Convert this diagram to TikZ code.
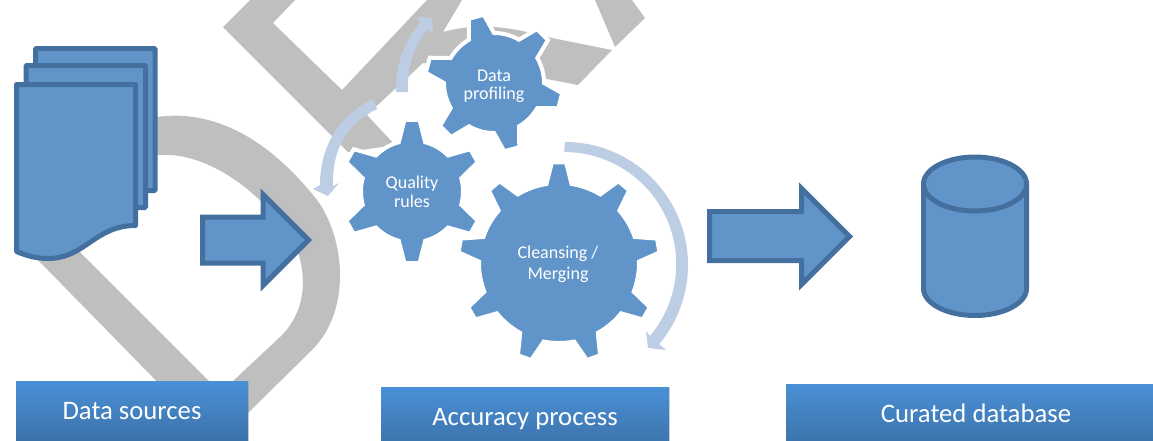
\documentclass[tikz,border=0pt]{standalone}
\usepackage{fontspec}
\setmainfont{Carlito}
\usetikzlibrary{shadows}
\definecolor{shapeblue}{HTML}{6195C9}
\definecolor{edgeblue}{HTML}{44709F}
\definecolor{paleblue}{HTML}{BCCDE4}
\definecolor{bandgrey}{HTML}{BFBFBF}
\definecolor{boxtop}{HTML}{4A90D6}
\definecolor{boxbottom}{HTML}{3C72AA}
\tikzset{
    band/.style={fill=bandgrey},
    solid blue/.style={draw=edgeblue, fill=shapeblue, line width=5, miter limit=10},
    cog/.style={draw=white, fill=shapeblue, line width=4},
    turn/.style={fill=paleblue},
    cog text/.style={text=white, align=center, font=\fontsize{18}{18.5}\selectfont},
    caption/.style={text=white, shade, top color=boxtop, bottom color=boxbottom, minimum height=60,
        text height=16, text depth=0, inner sep=0, font=\fontsize{26.7}{30}\selectfont,
        drop shadow={shadow xshift=1, shadow yshift=-1, opacity=.3}}
}

\begin{document}
\begin{tikzpicture}[x=1pt, y=1pt]
    \useasboundingbox (0, 0) rectangle (1153, -440);

    % grey bands behind everything
    \fill[band] (60, -232) -- (225, -397) -- (175, -400) -- (37, -259) -- cycle;
    \fill[band] (130, -120) -- (157, -117) .. controls (205, -110) and (262, -130) .. (317, -200)
        .. controls (345, -238) and (352, -310) .. (312, -350) -- (248, -413) -- (200, -460) -- (190, -425) -- (232, -382) -- (280, -337)
        .. controls (305, -313) and (307, -280) .. (298, -252)
        .. controls (285, -218) and (222, -150) .. (157, -155) -- (130, -158) -- cycle;
    \fill[band] (223, -27) -- (250, 0) -- (295, 0) -- (273, -23) -- (342, -90) -- (427, 0) -- (462, 0) -- (443, -32)
        .. controls (480, -22) and (510, -27) .. (552, -38)
        -- (612, -50) -- (578, -85) -- (500, -70) -- (423, -63) -- (367, -115) -- (395, -145) -- (348, -152) -- cycle;
    \fill[band] (595, 0) -- (615, -47) -- (645, -18) -- (632, 0) -- cycle;

    % documents
    \foreach \dx/\dy in {35.5/48.5, 26/65.5}
        \draw[solid blue, rounded corners=1] (\dx, -\dy) rectangle (\dx+119.5, -\dy-142);
    \draw[solid blue, line join=round] (16.5, -84.5) -- (135.5, -84.5) -- (135.5, -225.5)
        .. controls (95, -225.5) and (85, -258.5) .. (48, -258.5)
        .. controls (35, -258.5) and (25, -255) .. (16.5, -251.5) -- cycle;

    % block arrows
    \foreach \xa/\xb/\xc/\ya/\yb/\ym/\hh in {202.5/263/308.5/217/263/240/45.5, 709.5/801.5/849.5/211.5/260.5/236.5/48}
        \draw[solid blue] (\xa, -\ya) -- (\xb, -\ya) -- (\xb, -\ym+\hh) -- (\xc, -\ym) -- (\xb, -\ym-\hh) -- (\xb, -\yb) -- (\xa, -\yb) -- cycle;

    % database
    \draw[solid blue] (923.5, -184) -- (923.5, -288.5) arc[start angle=180, end angle=360, x radius=51.5, y radius=27] -- (1026.5, -184);
    \draw[solid blue] (975, -184) ellipse[x radius=51.5, y radius=27];

    % cogs: centre, radii, teeth, first tooth, half widths
    \foreach \cx/\cy/\rb/\rt/\n/\s/\db/\dt in {494/83/50/69/6/45/15/6.5, 412/191.5/51/72/6/30/15/6, 559/263/80/101/9/10/9/4} {
        \pgfmathsetmacro\gap{360/\n}
        \draw[cog, shift={(\cx, -\cy)}] ({\s+\gap-\db}:\rb)
            \foreach \i in {1,...,\n} {
                -- ({\s+\i*\gap-\dt}:\rt) -- ({\s+\i*\gap+\dt}:\rt) -- ({\s+\i*\gap+\db}:\rb)
                arc[start angle={\s+\i*\gap+\db}, end angle={\s+(\i+1)*\gap-\db}, radius=\rb]
            } -- cycle;
    }
    \node[cog text] (profiling) at (494, -86.5) {Data\\profiling};
    \node[cog text] (quality) at (412, -192) {Quality\\rules};
    \node[cog text] (cleansing) at (558, -264.5) {Cleansing /\\[3pt]Merging};

    % pale turning arrows
    \fill[turn] (90:123) ++(565, -265) arc[start angle=90, end angle=-40, radius=123]
        -- (666, -350) -- (648, -348) -- (646, -331) -- (650, -336)
        arc[start angle=-40, end angle=90, radius=112] -- cycle;
    \fill[turn] (373, -99) .. controls (340, -115) and (320, -145) .. (320, -185) -- (313, -189) -- (328, -196) -- (339, -183) -- (333, -186)
        .. controls (332, -145) and (350, -122) .. (377, -109) -- cycle;
    \fill[turn] (396, -92) .. controls (395, -65) and (405, -40) .. (420, -23) -- (417, -17) -- (432, -18) -- (433, -33) -- (427, -30)
        .. controls (415, -45) and (407, -65) .. (408, -92) -- cycle;

    % captions
    \node[caption, minimum width=232] (sources) at (132, -411.5) {Data sources};
    \node[caption, minimum width=288] (process) at (525, -417) {Accuracy process};
    \node[caption, minimum width=380] (database) at (976, -414) {Curated database};
\end{tikzpicture}
\end{document}
